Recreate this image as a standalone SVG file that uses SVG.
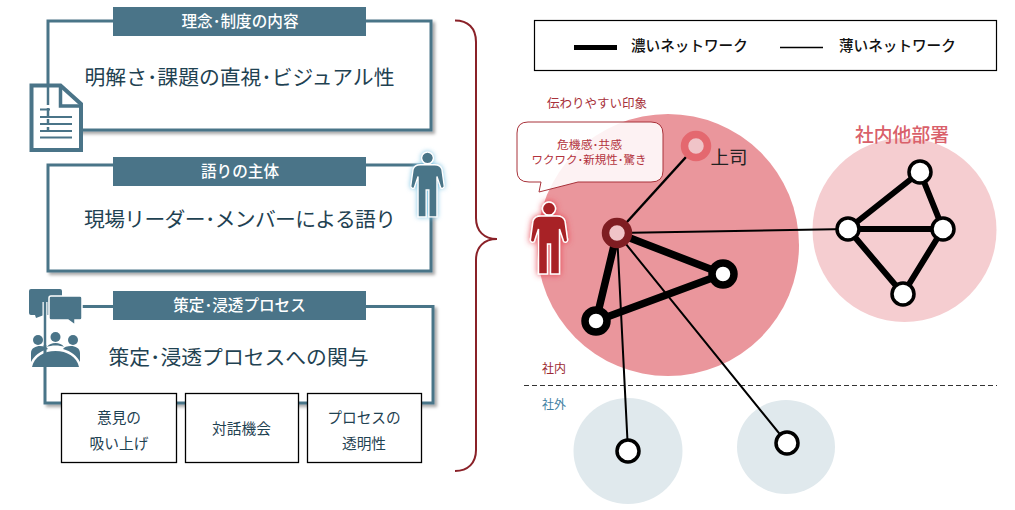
<svg xmlns="http://www.w3.org/2000/svg" width="1015" height="510" viewBox="0 0 1015 510">
<style>
text{font-family:"Noto Sans CJK JP","Liberation Sans",sans-serif;text-anchor:middle}
.box{fill:#fff;stroke:#4a7488;stroke-width:3;filter:url(#sh)}
.hd{fill:#4a7488}
.ht{fill:#fff;font-size:15.600px;font-weight:500}
.mt{fill:#1f4252;font-size:20.800px}
.sm{fill:#fff;stroke:#000;stroke-width:1.300}
.st{fill:#1f4252;font-size:14.700px}
.ic{fill:#4a7488}
.k{stroke:#000;fill:none}
.n{fill:#fff;stroke:#000;stroke-width:3.500}
.N{fill:#fff;stroke:#000;stroke-width:7.500}
.lg{font-size:14.600px;font-weight:500;fill:#111;text-anchor:start}
</style>
<defs>
<filter id="sh" x="-5%" y="-5%" width="112%" height="115%"><feDropShadow dx="2.500" dy="2.500" stdDeviation="1.600" flood-color="#000" flood-opacity=".35"/></filter>
<filter id="gb" x="-40%" y="-30%" width="180%" height="160%"><feDropShadow dx="0" dy="0" stdDeviation="3" flood-color="#7cc4e4" flood-opacity="1"/></filter>
<filter id="gr" x="-40%" y="-30%" width="180%" height="160%"><feDropShadow dx="0" dy="0" stdDeviation="3" flood-color="#e8414d" flood-opacity="1"/></filter>
<path id="person" d="M0-36a6.500 6.500 0 1 1-.01 0zM-8-22H8c5 0 7 2 8 5L18.500 1c.8 3-3 4.500-4 2L10.500-9V36H1.500V6H-1.500V36H-10.500V-9L-14.500 3c-1 2.500-4.800 1-4-2L-16-17c1-3 3-5 8-5z"/>
</defs>

<g id="box1"><rect class="box" x="48" y="21" width="383" height="109"/><rect class="hd" x="113" y="7" width="253" height="29"/><text class="ht" x="240" y="27">理念･制度の内容</text><text class="mt" x="239.500" y="85">明解さ･課題の直視･ビジュアル性</text></g>
<g id="icon-doc"><path d="M31.500 85.500H60.500L81 104V150H31.500Z" fill="#fff" stroke="#4a7488" stroke-width="4"/><path d="M60.500 86V106H81" fill="none" stroke="#4a7488" stroke-width="3.500"/><path d="M48 87V131" stroke="#4a7488" stroke-width="2.500" stroke-dasharray="18 3 8 3 5 3"/><path d="M40 109.500H50M40 117H72M40 124H72M40 131H72M40 137.500H72" stroke="#4a7488" stroke-width="2"/></g>

<g id="box2"><rect class="box" x="48" y="165" width="383" height="106"/><rect class="hd" x="113" y="157" width="253" height="29"/><text class="ht" x="240" y="177">語りの主体</text><text class="mt" x="240" y="227" textLength="312">現場リーダー･メンバーによる語り</text></g>
<g id="icon-person-blue"><use href="#person" transform="translate(427.500 184.500) scale(.9)" fill="#4a7488" stroke="#fff" stroke-width="1.500" filter="url(#gb)"/></g>

<g id="box3"><rect class="box" x="45" y="306.500" width="388" height="96.500"/><rect class="hd" x="113" y="291" width="253" height="29"/><text class="ht" x="239.500" y="311">策定･浸透プロセス</text><text class="mt" x="238.500" y="365">策定･浸透プロセスへの関与</text></g>
<g id="icon-meeting"><path class="ic" d="M31 289H60Q62 289 62 291V313Q62 315 60 315H44L36 318L35 315H31Q29 315 29 313V291Q29 289 31 289Z"/><path d="M45 302V345" stroke="#fff" stroke-width="5"/><path d="M45 302V345" stroke="#4a7488" stroke-width="2.500"/><path class="ic" d="M51 296H80Q82 296 82 298V318Q82 320 80 320H75V325L68 320H51Q49 320 49 318V298Q49 296 51 296Z" stroke="#fff" stroke-width="1.500"/><circle cx="38" cy="340" r="5" class="ic"/><circle cx="55.500" cy="337" r="5" class="ic"/><circle cx="73" cy="340" r="5" class="ic"/><path class="ic" d="M31 362V353C31 348 36 346 40 346C44 346 47 347 48 349C40 351 34 356 31 362Z"/><path class="ic" d="M47 347C49 344 52 343 55.500 343C59 343 62 344 64 347C62 346 59 345.500 55.500 345.500C52 345.500 49 346 47 347Z"/><path class="ic" d="M80 362V353C80 348 75 346 71 346C67 346 64 347 63 349C71 351 77 356 80 362Z"/><path class="ic" d="M32 367C34 357 44 351 55.500 351C67 351 77 357 79 367Z"/></g>

<g id="s1"><rect class="sm" x="61.500" y="393.500" width="115" height="69"/><text class="st" x="119" y="423">意見の</text><text class="st" x="119" y="449">吸い上げ</text></g>
<g id="s2"><rect class="sm" x="185.500" y="393.500" width="113" height="69"/><text class="st" x="241.500" y="434">対話機会</text></g>
<g id="s3"><rect class="sm" x="307.500" y="393.500" width="114" height="69"/><text class="st" x="364" y="423">プロセスの</text><text class="st" x="364" y="449">透明性</text></g>

<path id="brace" d="M455 20.500C468 20.500 476 28 476 42V218C476 231 484 239 497 239C484 239 476 247 476 260V450C476 463 468 471 455 471" fill="none" stroke="#8a2128" stroke-width="2"/>

<g id="legend"><rect x="534.500" y="20.500" width="462" height="50" fill="#fff" stroke="#000" stroke-width="1.200"/><path d="M574 47.500H617" stroke="#000" stroke-width="5"/><path d="M780 47.500H823" stroke="#000" stroke-width="1.500"/><text class="lg" x="631" y="51">濃いネットワーク</text><text class="lg" x="839" y="51">薄いネットワーク</text></g>

<g id="areas"><circle cx="668" cy="245" r="131" fill="#ea969c"/><circle cx="904.500" cy="230" r="92" fill="#f5cdd0"/><ellipse cx="628" cy="451" rx="54.500" ry="53" fill="#e0e9ed"/><ellipse cx="786" cy="447" rx="49" ry="47" fill="#e0e9ed"/>
<path d="M524 385.500H997" stroke="#333" stroke-width="1" stroke-dasharray="5 3"/>
<text x="554" y="373" font-size="12" fill="#9c2a32">社内</text><text x="554" y="409" font-size="12" fill="#3f7fa3">社外</text>
<text x="902" y="142" font-size="18.800" font-weight="500" fill="#d9606a">社内他部署</text>
<text x="597" y="108" font-size="12.500" fill="#a8323a">伝わりやすい印象</text></g>

<g id="connectors">
<path class="k" stroke-width="2.500" d="M617 233L696 146"/>
<path class="k" stroke-width="2" d="M617 233L848 229M617 233L628 451M617 233L787 443"/>
<path class="k" stroke-width="7.500" d="M617 233L723 274L596 321Z"/>
<path class="k" stroke-width="6" d="M848 229L920 172L943 229L903 294L848 229M848 229H943"/>
</g>

<g id="callout"><path d="M528 122H651Q663 122 663 134V171Q663 182 651 182H578L539 192L541 182H529Q517 182 517 171V133Q517 122 528 122Z" fill="#fff" fill-opacity=".88" stroke="#a8323a" stroke-width="1"/><text x="589.500" y="149" font-size="11.800" fill="#b3333d">危機感･共感</text><text x="589" y="164" font-size="11.500" fill="#b3333d">ワクワク･新規性･驚き</text></g>
<g id="icon-person-red"><use href="#person" transform="translate(549 238)" fill="#a82228" stroke="#fff" stroke-width="1.500" filter="url(#gr)"/></g>

<g id="nodes">
<g id="n-boss"><circle cx="696" cy="146" r="11.500" fill="#f0c4c8" stroke="#e4686f" stroke-width="7.500"/><text x="729" y="164" font-size="18.500" fill="#222">上司</text></g>
<g id="n-self"><circle cx="617" cy="233" r="11.500" fill="#f0c4c8" stroke="#7f1d22" stroke-width="7.500"/></g>
<circle id="n-a" class="N" cx="723" cy="274" r="11"/>
<circle id="n-b" class="N" cx="596" cy="321" r="11"/>
<circle id="n-c" class="n" cx="848" cy="229" r="11"/>
<circle id="n-d" class="n" cx="920" cy="172" r="11"/>
<circle id="n-e" class="n" cx="943" cy="229" r="11"/>
<circle id="n-f" class="n" cx="903" cy="294" r="11"/>
<circle id="n-g" class="n" cx="628" cy="451" r="11"/>
<circle id="n-h" class="n" cx="787" cy="443" r="11"/>
</g>
</svg>
